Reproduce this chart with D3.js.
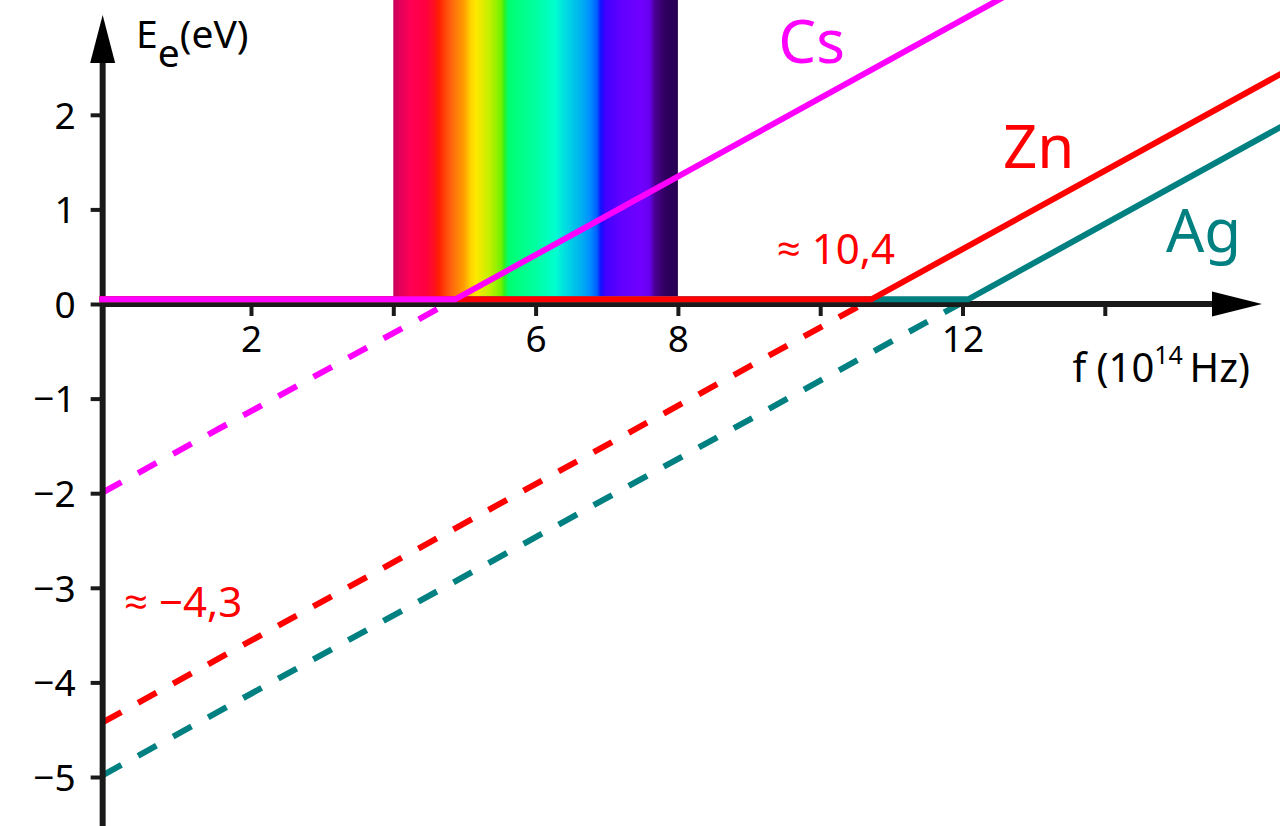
<!DOCTYPE html>
<html>
<head>
<meta charset="utf-8">
<script src="https://cdn.jsdelivr.net/npm/d3@7"></script>
<style>
  body { margin: 0; background: #fff; }
  text { font-family: "Noto Sans", "Open Sans", sans-serif; }
</style>
</head>
<body>
<div id="chart"></div>
<script>
// metals and their lines (f in 10^14 Hz, E in eV)
const metals = ['Cs', 'Zn', 'Ag'];
const colors = ['#ff00ff', '#ff0000', '#008080'];
// dashed part: from the E axis up to the kink
const dashStart = [[-0.08, -1.99], [-0.08, -4.42], [-0.08, -4.98]];
const kinks = [[4.87, 0.05], [10.72, 0.05], [12.08, 0.05]];
// end of the solid part (cut by the picture edge)
const lineEnd = [[13.0, 3.42], [17.0, 2.65], [17.0, 2.09]];
const flatStart = -0.13;

const labelPos = [[9.41, 2.55], [12.57, 1.44], [14.86, 0.55]];

// spectrum band
const spectrumF = [4, 8];
const spectrumTop = 3.3;
const spectrumBottom = 0.08;
const specOffsets = [0, 0.03, 0.06, 0.115, 0.145, 0.16, 0.2, 0.25, 0.27, 0.29, 0.34, 0.38, 0.39, 0.405,
                     0.5, 0.57, 0.6, 0.66, 0.69, 0.715, 0.73, 0.745, 0.8, 0.87, 0.9, 0.92, 0.955, 1];
const specColors = ['#c8005a', '#e8005a', '#ff0055', '#ff0040', '#ff1020', '#ff2000', '#ff6010', '#ffa000',
                    '#ffd000', '#ffe800', '#c0f000', '#70f000', '#30f020', '#00ff70',
                    '#00ffa0', '#00ffd0', '#00e0e0', '#00b0f0', '#0090ff', '#0060ff', '#1010ff', '#4000ff',
                    '#6000ff', '#7000ff', '#6800f0', '#4a0090', '#300060', '#250050'];

const xTicks = [2, 4, 6, 8, 10, 12, 14];
const xTickLabels = ['2', '', '6', '8', '', '12', ''];
const yTicks = [2, 1, 0, -1, -2, -3, -4, -5];
const yTickLabels = ['2', '1', '0', '\u22121', '\u22122', '\u22123', '\u22124', '\u22125'];

const notes = ['\u2248 10,4', '\u2248 \u22124,3'];
const notePos = [[9.39, 0.42], [0.215, -3.31]];

const width = 1280;
const height = 826;
const axisColor = '#1a1a1a';

const svg = d3.select('#chart').append('svg')
    .attr('width', width)
    .attr('height', height);

const x = d3.scaleLinear().domain([0, 14]).range([108.7, 1104.8]);
const y = d3.scaleLinear().domain([0, 2]).range([304, 114.8]);
const axisF = -0.085;

// spectrum
const grad = svg.append('defs').append('linearGradient')
    .attr('id', 'spec')
    .attr('x1', 0).attr('x2', 1).attr('y1', 0).attr('y2', 0);
grad.selectAll('stop')
    .data(specOffsets)
    .enter()
    .append('stop')
    .attr('offset', d => d)
    .attr('stop-color', (d, i) => specColors[i]);

svg.append('rect')
    .attr('x', x(spectrumF[0]))
    .attr('y', y(spectrumTop))
    .attr('width', x(spectrumF[1]) - x(spectrumF[0]))
    .attr('height', y(spectrumBottom) - y(spectrumTop))
    .attr('fill', 'url(#spec)');

const line = d3.line().x(d => x(d[0])).y(d => y(d[1]));

// dashed parts
metals.forEach((m, i) => {
    svg.append('path')
        .attr('d', line([dashStart[i], kinks[i]]))
        .attr('fill', 'none')
        .attr('stroke', colors[i])
        .attr('stroke-width', 6)
        .attr('stroke-dasharray', '21 19');
});

// axes
const gx = svg.append('g')
    .attr('transform', `translate(0,${y(0)})`)
    .call(d3.axisBottom(x).tickValues(xTicks)
        .tickFormat((d, i) => xTickLabels[i])
        .tickSize(12).tickPadding(10));
const gy = svg.append('g')
    .attr('transform', `translate(${x(axisF)},0)`)
    .call(d3.axisLeft(y).tickValues(yTicks)
        .tickFormat((d, i) => yTickLabels[i])
        .tickSize(12).tickPadding(15));

[gx, gy].forEach(g => {
    g.select('.domain').remove();
    g.selectAll('line').attr('stroke', axisColor).attr('stroke-width', 4);
    g.selectAll('text')
        .attr('fill', '#000')
        .style('font-size', '37px')
        .style('font-family', '"Noto Sans", sans-serif');
});
gy.selectAll('text').attr('dy', '0.36em');

const ax0 = x(axisF);
svg.append('line')
    .attr('x1', ax0).attr('x2', 1220)
    .attr('y1', y(0)).attr('y2', y(0))
    .attr('stroke', axisColor).attr('stroke-width', 6);
svg.append('line')
    .attr('x1', ax0).attr('x2', ax0)
    .attr('y1', height).attr('y2', 55)
    .attr('stroke', axisColor).attr('stroke-width', 6);
svg.append('path')
    .attr('d', `M${ax0},15 L${ax0 - 12.5},63 L${ax0 + 12.5},63 Z`)
    .attr('fill', '#000');
svg.append('path')
    .attr('d', `M1262,${y(0)} L1212,${y(0) - 12.5} L1212,${y(0) + 12.5} Z`)
    .attr('fill', '#000');

// solid parts, Ag first so Cs stays on top
for (let i = metals.length - 1; i >= 0; i--) {
    svg.append('path')
        .attr('d', line([[flatStart, kinks[i][1]], kinks[i], lineEnd[i]]))
        .attr('fill', 'none')
        .attr('stroke', colors[i])
        .attr('stroke-width', 6)
        .attr('stroke-linejoin', 'miter');
}

// metal labels
svg.selectAll('.metal')
    .data(metals)
    .enter()
    .append('text')
    .attr('class', 'metal')
    .attr('x', (d, i) => x(labelPos[i][0]))
    .attr('y', (d, i) => y(labelPos[i][1]))
    .attr('fill', (d, i) => colors[i])
    .style('font-size', '60px')
    .text(d => d);

// approx notes
svg.selectAll('.note')
    .data(notes)
    .enter()
    .append('text')
    .attr('class', 'note')
    .attr('x', (d, i) => x(notePos[i][0]))
    .attr('y', (d, i) => y(notePos[i][1]))
    .attr('fill', '#ff0000')
    .style('font-size', '42px')
    .text(d => d);

// axis titles
const yTitle = svg.append('text')
    .attr('x', 136).attr('y', 48)
    .style('font-size', '39px');
yTitle.append('tspan').text('E');
yTitle.append('tspan').attr('dy', 19).text('e');
yTitle.append('tspan').attr('dy', -19).text('(eV)');

const xTitle = svg.append('text')
    .attr('x', 1250).attr('y', 382)
    .attr('text-anchor', 'end')
    .style('font-size', '40px');
xTitle.append('tspan').text('f (10');
xTitle.append('tspan').attr('dy', -18).style('font-size', '25px').text('14');
xTitle.append('tspan').attr('dy', 18).text('\u2009Hz)');
</script>
</body>
</html>
